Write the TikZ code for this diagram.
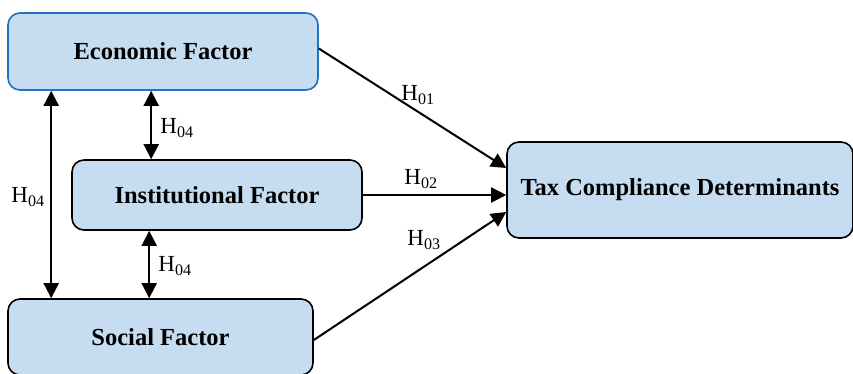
\documentclass[tikz,border=0pt]{standalone}
\usepackage{fontspec}
\setmainfont{Liberation Serif}
\usetikzlibrary{arrows.meta}
\definecolor{boxfill}{RGB}{198,221,241}
\definecolor{boxblue}{RGB}{30,115,190}
\begin{document}
\begin{tikzpicture}[x=1pt,y=-1pt,
  factor/.style={draw=black,line width=1.6pt,fill=boxfill,rounded corners=12pt,
    font=\fontsize{24.5}{28}\selectfont\bfseries,inner sep=0pt},
  link/.style={line width=2pt,-{Triangle[length=15pt,width=15pt]}},
  dlink/.style={line width=2pt,{Triangle[length=15pt,width=15pt]}-{Triangle[length=15pt,width=15pt]}},
  hlab/.style={font=\fontsize{23}{26}\selectfont,inner sep=0pt}]
\useasboundingbox[fill=white] (0,0) rectangle (853,373);
\begin{scope}
\clip (0,0) rectangle (853,373);
\node[factor,draw=boxblue,minimum width=310pt,minimum height=77pt] (eco) at (163,51.5) {Economic Factor};
\node[factor,minimum width=290pt,minimum height=70pt] (inst) at (217,195) {Institutional Factor};
\node[factor,minimum width=305pt,minimum height=76pt] (soc) at (160.5,337) {Social Factor};
\node[factor,minimum width=346pt,minimum height=96pt] (tax) at (680,190) {Tax Compliance Determinants};
\end{scope}
\draw[link] ([yshift=3pt]eco.east) -- ([yshift=22pt]tax.west);
\draw[link] (inst.east) -- (tax.west |- inst.east);
\draw[link] ([yshift=-3pt]soc.east) -- ([yshift=-22pt]tax.west);
\draw[dlink] ([xshift=44pt]eco.south west) -- ([xshift=44pt]soc.north west);
\draw[dlink] ([xshift=144pt]eco.south west) -- ([xshift=80pt]inst.north west);
\draw[dlink] ([xshift=78pt]inst.south west) -- ([xshift=142pt]soc.north west);
\node[hlab] (h1) at (418,95) {H\textsubscript{01}};
\node[hlab] (h2) at (421,179) {H\textsubscript{02}};
\node[hlab] (h3) at (424,240) {H\textsubscript{03}};
\node[hlab] (h4a) at (28,197) {H\textsubscript{04}};
\node[hlab] (h4b) at (177,128) {H\textsubscript{04}};
\node[hlab] (h4c) at (175,266) {H\textsubscript{04}};
\end{tikzpicture}
\end{document}
